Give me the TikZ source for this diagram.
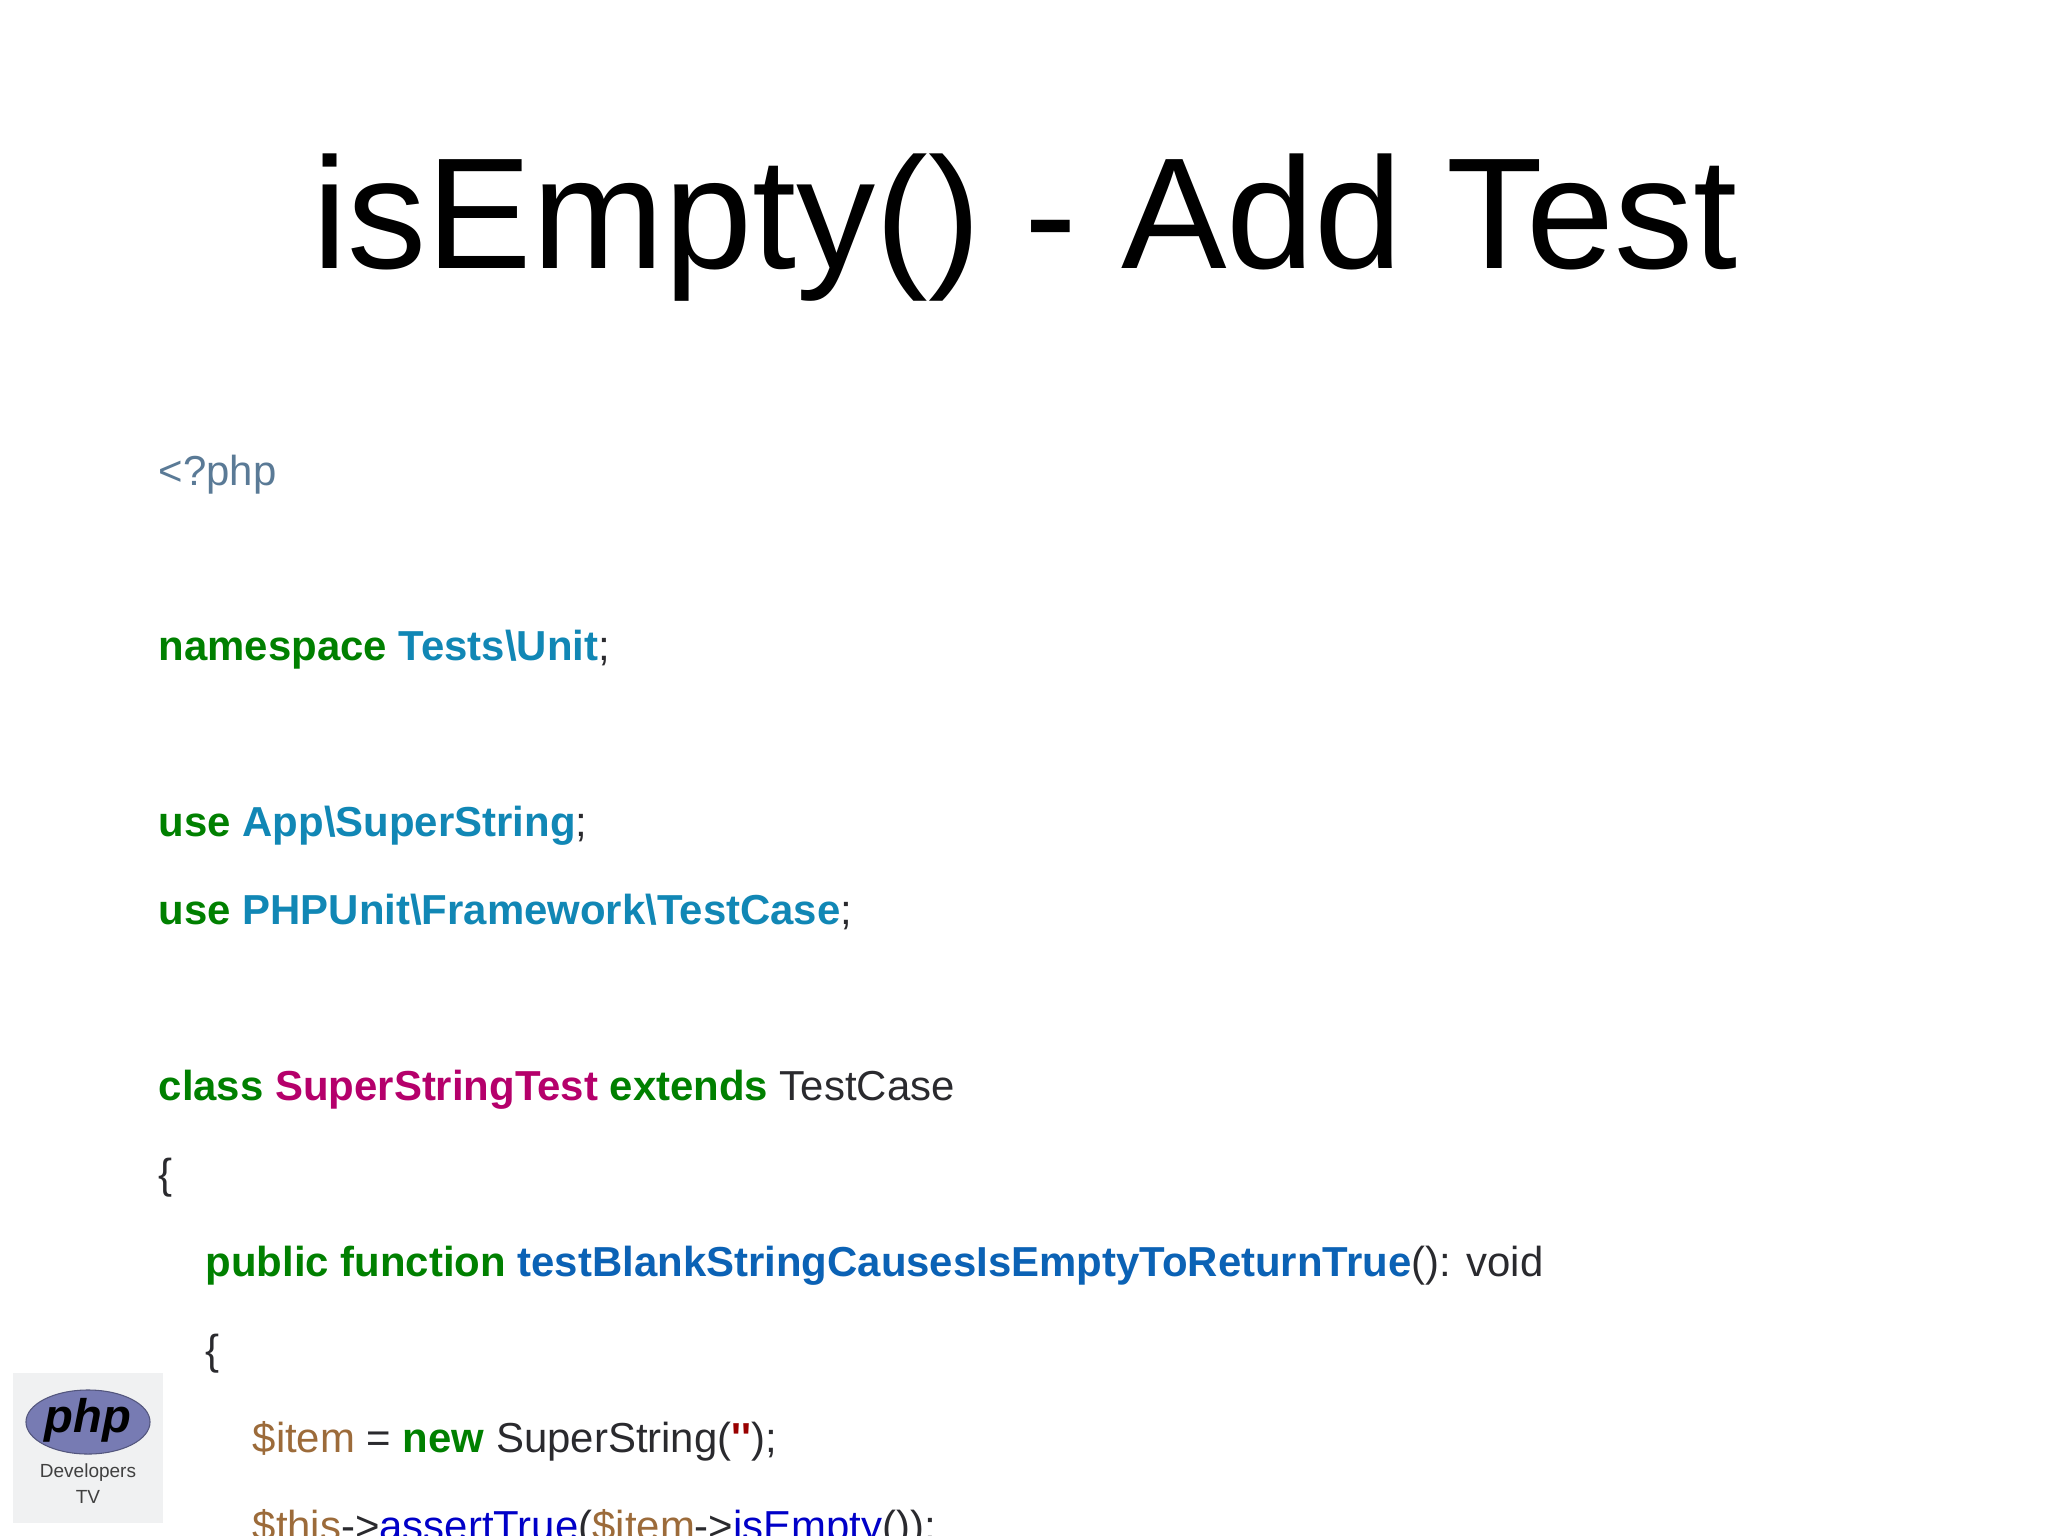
\documentclass[tikz,border=0pt]{standalone}
\usepackage{fontspec}
\setmainfont{Liberation Sans}
\newfontfamily\strfont{Liberation Sans}
\usetikzlibrary{positioning}
\usetikzlibrary{shapes.geometric}
\definecolor{kwgreen}{HTML}{008000}
\definecolor{nsblue}{HTML}{1187B5}
\definecolor{clspink}{HTML}{B5006B}
\definecolor{fnblue}{HTML}{0B62B5}
\definecolor{tagblue}{HTML}{5A7A96}
\definecolor{varbrown}{HTML}{9C6B3A}
\definecolor{plain}{HTML}{2A2A2E}
\definecolor{callblue}{HTML}{0000C8}
\definecolor{strred}{HTML}{990000}
\definecolor{logobg}{HTML}{F0F1F2}
\definecolor{logoblue}{HTML}{777BB3}
\newcommand{\kw}[1]{\textcolor{kwgreen}{\textbf{#1}}}
\newcommand{\ns}[1]{\textcolor{nsblue}{\textbf{#1}}}
\newcommand{\vr}[1]{\textcolor{varbrown}{#1}}
\newcommand{\cl}[1]{\textcolor{callblue}{#1}}
\tikzset{code/.style={anchor=base west,inner sep=0pt,text=plain,font=\fontsize{11.92pt}{14pt}\selectfont}}
\tikzset{heading/.style={anchor=base,inner sep=0pt,text=black,font=\fontsize{45pt}{50pt}\selectfont}}
\tikzset{logotext/.style={anchor=base,inner sep=0pt,text=black!75,font=\fontsize{5.4pt}{6pt}\selectfont}}

\begin{document}
\begin{tikzpicture}[x=0.01cm,y=-0.01cm]
\path[use as bounding box,fill=white] (0,0) rectangle (2048,1536);

\node[heading] (title) at (1025,268) {isEmpty() - Add Test};

\node[code] (tag) at (158,485) {\textcolor{tagblue}{<?php}};
\node[code] (namespace) at (158,660) {\kw{namespace} \ns{Tests\textbackslash Unit};};
\node[code] (usestr) at (158,836) {\kw{use} \ns{App\textbackslash SuperString};};
\node[code] (usecase) at (158,924) {\kw{use} \ns{PHPUnit\textbackslash Framework\textbackslash TestCase};};
\node[code] (class) at (158,1100) {\kw{class} \textcolor{clspink}{\textbf{SuperStringTest}} \kw{extends} TestCase};
\node[code] (open) at (158,1188) {\{};
\node[code] (func) at (205,1276) {\kw{public function} \textcolor{fnblue}{\textbf{testBlankStringCausesIsEmptyToReturnTrue}}(): void};
\node[code] (body) at (205,1364) {\{};
\node[code] (item) at (252,1452) {\vr{\$item} = \kw{new} SuperString(\textcolor{strred}{\strfont\bfseries ''});};
\node[code] (assert) at (252,1540) {\vr{\$this}->\cl{assertTrue}(\vr{\$item}->\cl{isEmpty}());};

% logo
\fill[logobg] (13,1373) rectangle (163,1523);
\node[ellipse,fill=logoblue,draw=logoblue!70!black,line width=0.3pt,inner sep=0pt,minimum width=1.24cm,minimum height=0.64cm] (logo) at (88,1422) {};
\node[anchor=base,inner sep=0pt,text=black,font=\fontsize{13.4pt}{14pt}\selectfont\bfseries\itshape] (php) at (88,1432) {php};
\node[logotext] (dev) at (88,1477) {Developers};
\node[logotext] (tv) at (88,1503) {TV};
\end{tikzpicture}
\end{document}
